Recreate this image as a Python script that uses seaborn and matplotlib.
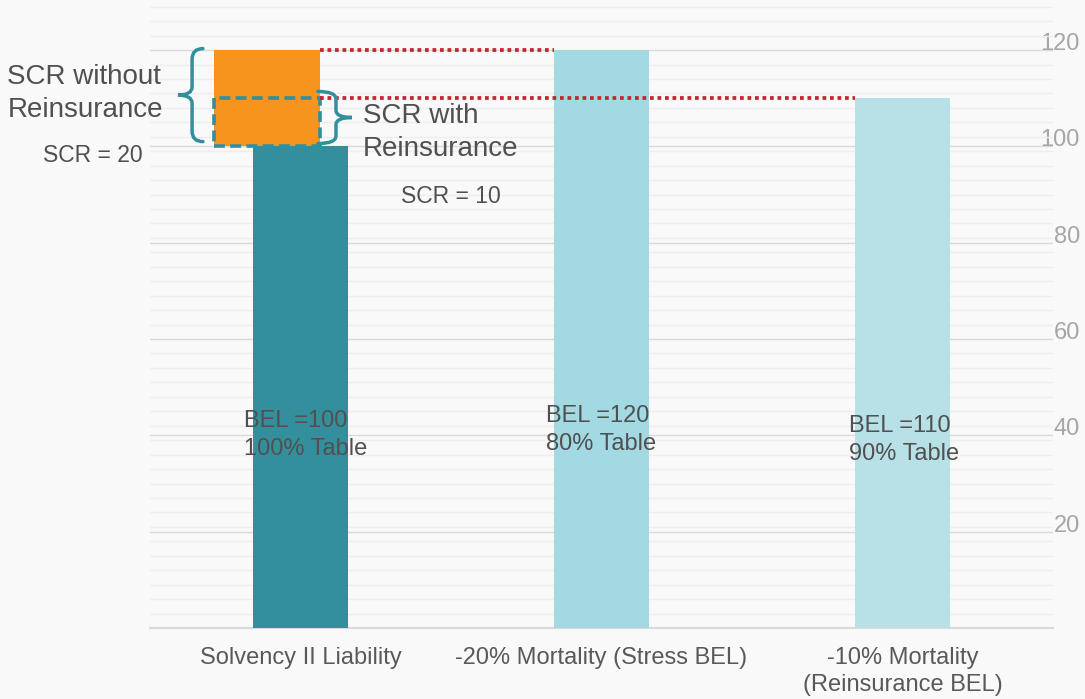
import matplotlib
matplotlib.use("Agg")
import matplotlib.pyplot as plt
import numpy as np
import pandas as pd
import seaborn as sns
from matplotlib.path import Path
from matplotlib.patches import PathPatch, Rectangle
from matplotlib.ticker import MultipleLocator

# ---- data -------------------------------------------------------------
categories = [
    "Solvency II Liability",
    "-20% Mortality (Stress BEL)",
    "-10% Mortality\n(Reinsurance BEL)",
]
bel_values = [100, 120, 110]
table_labels = ["100% Table", "80% Table", "90% Table"]
scr_without_reins = 20
scr_with_reins = 10
y_ticks = [20, 40, 60, 80, 100, 120]

# ---- style ------------------------------------------------------------
BG = "#F9F9F9"
TEAL = "#338F9C"
ORANGE = "#F7941E"
RED = "#C1272D"
TEXT = "#505050"
bar_colors = [TEAL, "#A3D9E2", "#B7E1E7"]

sns.set_style("white", {"axes.facecolor": BG, "figure.facecolor": BG})
plt.rcParams["font.family"] = ["Liberation Sans", "DejaVu Sans"]

fig, ax = plt.subplots(figsize=(10.85, 6.99), dpi=100)
fig.subplots_adjust(left=0.1382, right=0.9705, bottom=0.1016, top=1.0)

df = pd.DataFrame({"scenario": categories, "bel": bel_values})
bar_w = 0.316
sns.barplot(data=df, x="scenario", y="bel", hue="scenario", palette=bar_colors,
            saturation=1, width=bar_w, legend=False, ax=ax, zorder=3,
            linewidth=0, edgecolor="none")

ax.set_xlim(-0.5, 2.5)
ax.set_ylim(0, 130.4)
ax.set_xlabel("")
ax.set_ylabel("")

# gridlines: major every 20, fine lines every 3
ax.set_yticks(y_ticks)
ax.yaxis.set_minor_locator(MultipleLocator(3))
ax.set_axisbelow(True)
ax.grid(which="major", axis="y", color="#D9D9D9", lw=1.0)
ax.grid(which="minor", axis="y", color="#EEEEEE", lw=1.0)

for side in ["left", "right", "top"]:
    ax.spines[side].set_visible(False)
ax.spines["bottom"].set_color("#D9D9D9")
ax.spines["bottom"].set_linewidth(1.5)

ax.yaxis.tick_right()
ax.tick_params(axis="y", which="both", length=0, pad=19.4, labelsize=17,
               labelcolor="#A6A6A6")
plt.setp(ax.get_yticklabels(), ha="right", va="baseline")
ax.tick_params(axis="x", length=0, pad=13.5, labelsize=17, labelcolor="#595959")
plt.setp(ax.get_xticklabels(), linespacing=1.3)

# ---- SCR block on the base liability ----------------------------------
scr_x = -0.111
scr_w = 0.352
ax.bar(scr_x, scr_without_reins, bottom=bel_values[0], width=scr_w,
       color=ORANGE, linewidth=0, edgecolor="none", zorder=4)
box_left = scr_x - scr_w / 2
box_right = scr_x + scr_w / 2
ax.add_patch(Rectangle((box_left, bel_values[0]), scr_w, scr_with_reins,
                       fill=False, edgecolor=TEAL, lw=2.6,
                       linestyle=(0, (3, 1.5)), zorder=5))

# dotted reference lines to the stressed BELs
ax.hlines(bel_values[1], box_right, 1 - bar_w / 2, colors=RED, lw=2.7,
          linestyles=(0, (1, 1)), zorder=5)
ax.hlines(bel_values[2], box_right, 2 - bar_w / 2, colors=RED, lw=2.7,
          linestyles=(0, (1, 1)), zorder=5)


def brace(ax, x_end, y0, y1, spine_off, tip_off, r_end, r_mid):
    """Curly brace whose arms end at x_end; spine_off/tip_off are signed
    horizontal offsets of the spine and tip from x_end."""
    xs = x_end + spine_off
    xt = x_end + tip_off
    ym = (y0 + y1) / 2
    verts = [
        (x_end, y1), (xs, y1), (xs, y1 - r_end),
        (xs, ym + r_mid), (xs, ym), (xt, ym),
        (xs, ym), (xs, ym - r_mid),
        (xs, y0 + r_end), (xs, y0), (x_end, y0),
    ]
    codes = [Path.MOVETO, Path.CURVE3, Path.CURVE3,
             Path.LINETO, Path.CURVE3, Path.CURVE3,
             Path.CURVE3, Path.CURVE3,
             Path.LINETO, Path.CURVE3, Path.CURVE3]
    ax.add_patch(PathPatch(Path(verts, codes), fill=False, edgecolor=TEAL,
                           lw=2.5, capstyle="round", zorder=6,
                           clip_on=False))


brace(ax, box_left - 0.037, bel_values[0] + 1.0,
      bel_values[0] + scr_without_reins + 0.3,
      -0.036, -0.083, 2.2, 1.7)
brace(ax, box_right - 0.007, bel_values[0] + 0.6,
      bel_values[0] + scr_with_reins + 1.4,
      0.060, 0.113, 1.6, 1.5)

# ---- annotations ------------------------------------------------------
ax.text(-0.457, 110.9, "SCR without\nReinsurance", ha="right", va="center",
        ma="left", fontsize=20, color=TEXT, linespacing=1.35, clip_on=False)
ax.text(-0.523, 98.2, f"SCR = {scr_without_reins}", ha="right", va="center",
        fontsize=16.5, color=TEXT, clip_on=False)
ax.text(0.2076, 102.8, "SCR with\nReinsurance", ha="left", va="center",
        fontsize=20, color=TEXT, linespacing=1.35)
ax.text(0.5, 89.7, f"SCR = {scr_with_reins}", ha="center", va="center",
        fontsize=16.5, color=TEXT)

bel_text_pos = [(-0.188, 40.1), (0.8156, 41.1), (1.822, 39.0)]
for (tx, ty), val, tbl in zip(bel_text_pos, bel_values, table_labels):
    ax.text(tx, ty, f"BEL ={val}\n{tbl}", ha="left", va="center",
            fontsize=17, color=TEXT, linespacing=1.35, zorder=7)

fig.savefig("out.png", dpi=100, facecolor=BG)
